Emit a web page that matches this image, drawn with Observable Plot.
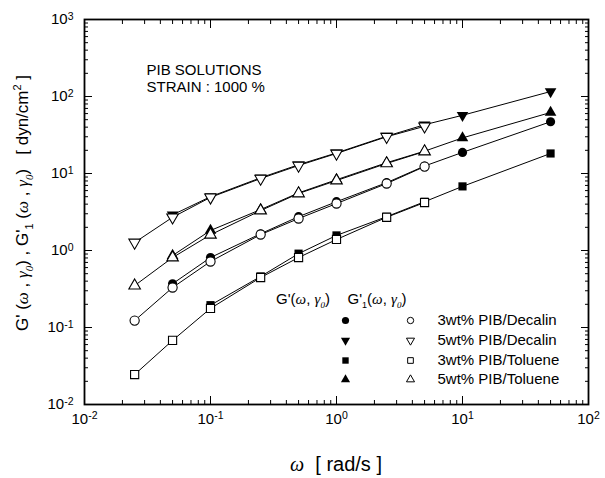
<!DOCTYPE html>
<html>
<head>
<meta charset="utf-8">
<script src="https://cdn.jsdelivr.net/npm/d3@7"></script>
<script src="https://cdn.jsdelivr.net/npm/@observablehq/plot@0.6"></script>
<style>
  html, body { margin: 0; padding: 0; background: #fff; }
  #chart { width: 605px; height: 478px; }
</style>
</head>
<body>
<div id="chart"></div>
<script>
// ---- data ----
const omegaFilled = [0.05, 0.1, 0.25, 0.5, 1, 2.5, 5, 10, 50];
const omegaOpen   = [0.025, 0.05, 0.1, 0.25, 0.5, 1, 2.5, 5];

// G'(ω,γ0)  (filled symbols)
const gDec3 = [0.37, 0.81, 1.65, 2.75, 4.3, 7.6, 12.5, 18.8, 47];
const gDec5 = [2.9, 5.0, 8.8, 13, 18.5, 30.5, 43, 57, 116];
const gTol3 = [null, 0.195, 0.46, 0.91, 1.57, 2.75, 4.3, 6.8, 18.2];
const gTol5 = [0.86, 1.82, 3.4, 5.6, 8.3, 13.8, 19.5, 29, 62];

// G'1(ω,γ0)  (open symbols)
const g1Dec3 = [0.123, 0.33, 0.72, 1.61, 2.6, 4.07, 7.4, 12.3];
const g1Dec5 = [1.27, 2.7, 4.9, 8.6, 12.7, 18.2, 30, 41];
const g1Tol3 = [0.0245, 0.068, 0.177, 0.446, 0.81, 1.39, 2.7, 4.2];
const g1Tol5 = [0.35, 0.81, 1.6, 3.3, 5.5, 8.1, 13.5, 19.3];

const seriesNames = ["3wt% PIB/Decalin", "5wt% PIB/Decalin", "3wt% PIB/Toluene", "5wt% PIB/Toluene"];
const seriesSymbols = ["circle", "triangle", "square", "triangle"];
const seriesRotate = [0, 180, 0, 0];
const filledValues = [gDec3, gDec5, gTol3, gTol5];
const openValues = [g1Dec3, g1Dec5, g1Tol3, g1Tol5];

const xTicks = [0.01, 0.1, 1, 10, 100];
const xTickExp = ["-2", "-1", "0", "1", "2"];
const yTicks = [0.01, 0.1, 1, 10, 100, 1000];
const yTickExp = ["-2", "-1", "0", "1", "2", "3"];

const noteLines = ["PIB SOLUTIONS", "STRAIN : 1000 %"];

// ---- tables ----
const filledData = [], openData = [];
seriesNames.forEach((name, s) => {
  omegaFilled.forEach((w, i) => { if (filledValues[s][i] != null) filledData.push({series: name, s, w, g: filledValues[s][i]}); });
  omegaOpen.forEach((w, i) => openData.push({series: name, s, w, g: openValues[s][i]}));
});
const minorTicks = (decs) => decs.slice(0, -1).flatMap(d => [2,3,4,5,6,7,8,9].map(m => d * m));
const xMinor = minorTicks(xTicks), yMinor = minorTicks(yTicks);
const fmtX = d => "10^" + xTickExp[xTicks.indexOf(d)];
const fmtY = d => "10^" + yTickExp[yTicks.indexOf(d)];
const blank = () => "";

const marks = [];
// axes (inward ticks on all four sides)
marks.push(
  Plot.axisX({anchor: "bottom", ticks: xTicks, tickSize: 0, tickPadding: 9, tickFormat: fmtX, fontSize: 15, label: null}),
  Plot.axisX({anchor: "bottom", ticks: xTicks, tickSize: -8, tickFormat: blank, label: null}),
  Plot.axisX({anchor: "bottom", ticks: xMinor, tickSize: -4, tickFormat: blank, label: null}),
  Plot.axisX({anchor: "top", ticks: xTicks, tickSize: -8, tickFormat: blank, label: null}),
  Plot.axisX({anchor: "top", ticks: xMinor, tickSize: -4, tickFormat: blank, label: null}),
  Plot.axisY({anchor: "left", ticks: yTicks, tickSize: 0, tickPadding: 11, tickFormat: fmtY, fontSize: 15, label: null}),
  Plot.axisY({anchor: "left", ticks: yTicks, tickSize: -8, tickFormat: blank, label: null}),
  Plot.axisY({anchor: "left", ticks: yMinor, tickSize: -4, tickFormat: blank, label: null}),
  Plot.axisY({anchor: "right", ticks: yTicks, tickSize: -8, tickFormat: blank, label: null}),
  Plot.axisY({anchor: "right", ticks: yMinor, tickSize: -4, tickFormat: blank, label: null})
);
// lines
seriesNames.forEach((name, s) => {
  marks.push(Plot.line(filledData.filter(d => d.s === s), {x: "w", y: "g", stroke: "black", strokeWidth: 1}));
  marks.push(Plot.line(openData.filter(d => d.s === s), {x: "w", y: "g", stroke: "black", strokeWidth: 1}));
});
// filled dots
seriesNames.forEach((name, s) => {
  marks.push(Plot.dot(filledData.filter(d => d.s === s), {x: "w", y: "g", symbol: seriesSymbols[s], rotate: seriesRotate[s], r: seriesSymbols[s] === "triangle" ? 4.3 : 4.6, fill: "black", stroke: "none"}));
});
// open dots
seriesNames.forEach((name, s) => {
  marks.push(Plot.dot(openData.filter(d => d.s === s), {x: "w", y: "g", symbol: seriesSymbols[s], rotate: seriesRotate[s], r: seriesSymbols[s] === "triangle" ? 4.3 : 4.6, fill: "white", stroke: "black", strokeWidth: 1.1}));
});
// annotation (two lines, upper left inside the frame)
const noteDy = [51, 68];
noteLines.forEach((line, i) => {
  marks.push(Plot.text([line], {text: d => d, frameAnchor: "top-left", dx: 62, dy: noteDy[i], fontSize: 15, textAnchor: "start", lineAnchor: "middle"}));
});

// legend (symbols inside the frame, lower right)
const legendRowDy = [301, 321, 341, 360];
seriesNames.forEach((name, s) => {
  const small = seriesSymbols[s] === "triangle" ? 3.4 : 3.6;
  marks.push(Plot.dot([name], {frameAnchor: "top-left", dx: 261, dy: legendRowDy[s], symbol: seriesSymbols[s], rotate: seriesRotate[s], r: small, fill: "black", stroke: "none"}));
  marks.push(Plot.dot([name], {frameAnchor: "top-left", dx: 326, dy: legendRowDy[s], symbol: seriesSymbols[s], rotate: seriesRotate[s], r: small - 0.4, fill: "white", stroke: "black", strokeWidth: 1}));
  marks.push(Plot.text([name], {text: d => d, frameAnchor: "top-left", dx: 353, dy: legendRowDy[s], fontSize: 15, textAnchor: "start", lineAnchor: "middle"}));
});

marks.push(Plot.frame({stroke: "black", strokeWidth: 1.8}));

const plot = Plot.plot({
  width: 605, height: 478,
  marginLeft: 84, marginRight: 17, marginTop: 19, marginBottom: 74,
  x: {type: "log", domain: [0.01, 100]},
  y: {type: "log", domain: [0.01, 1000]},
  style: {fontFamily: "'Liberation Sans', Arial, sans-serif", color: "black", background: "white", overflow: "visible"},
  marks
});
document.getElementById("chart").appendChild(plot);

const svg = d3.select(plot);
// superscript tick labels
svg.selectAll("text").each(function () {
  const t = this.textContent;
  const m = /^10\^(-?\d+)$/.exec(t);
  if (m) {
    const sel = d3.select(this);
    sel.text("10");
    sel.append("tspan").attr("dy", "-0.45em").attr("font-size", "10.5px").text(m[1]);
  }
});

// rich text helper
function rich(sel, parts, size) {
  parts.forEach(p => {
    const ts = sel.append("tspan").text(p.t);
    if (p.serif) ts.attr("font-family", "'Liberation Serif', 'Times New Roman', serif");
    if (p.italic) ts.attr("font-style", "italic");
    if (p.sub) ts.attr("font-size", Math.round(size * 0.62) + "px").attr("dy", size * 0.28);
    if (p.subEnd) ts.attr("dy", -size * 0.28);
    if (p.sup) ts.attr("font-size", Math.round(size * 0.62) + "px").attr("dy", -size * 0.42);
    if (p.supEnd) ts.attr("dy", size * 0.42);
  });
}
const gPrime = (sub, compact) => {
  const arr = [{t: "G'"}];
  const open = compact ? "(" : " (";
  if (sub) arr.push({t: "1", sub: true}, {t: open, subEnd: true});
  else arr.push({t: open});
  arr.push({t: "ω", serif: true, italic: true}, {t: compact ? ", " : " , "}, {t: "γ", serif: true, italic: true}, {t: "0", sub: true, serif: true, italic: true}, {t: ")", subEnd: true});
  return arr;
};

const font = "'Liberation Sans', Arial, sans-serif";
// Y axis title
const yt = svg.append("text").attr("transform", "translate(28,203) rotate(-90)")
  .attr("text-anchor", "middle").attr("font-family", font).attr("font-size", "17px").attr("fill", "black");
rich(yt, [...gPrime(false, false), {t: " , "}, ...gPrime(true, false), {t: "\u00a0\u00a0\u00a0[ dyn/cm"}, {t: "2", sup: true}, {t: " ]", supEnd: true}], 17);

// X axis title
const xt = svg.append("text").attr("transform", "translate(336,471)")
  .attr("text-anchor", "middle").attr("font-family", font).attr("font-size", "20px").attr("fill", "black");
rich(xt, [{t: "ω", serif: true, italic: true}, {t: "\u00a0\u00a0[ rad/s ]"}], 20);

// legend headers
const lh1 = svg.append("text").attr("x", 303).attr("y", 304).attr("font-family", font).attr("font-size", "15px").attr("fill", "black");
rich(lh1, gPrime(false, true), 15);
const lh2 = svg.append("text").attr("x", 377).attr("y", 304).attr("font-family", font).attr("font-size", "15px").attr("fill", "black");
rich(lh2, gPrime(true, true), 15);
</script>
</body>
</html>
